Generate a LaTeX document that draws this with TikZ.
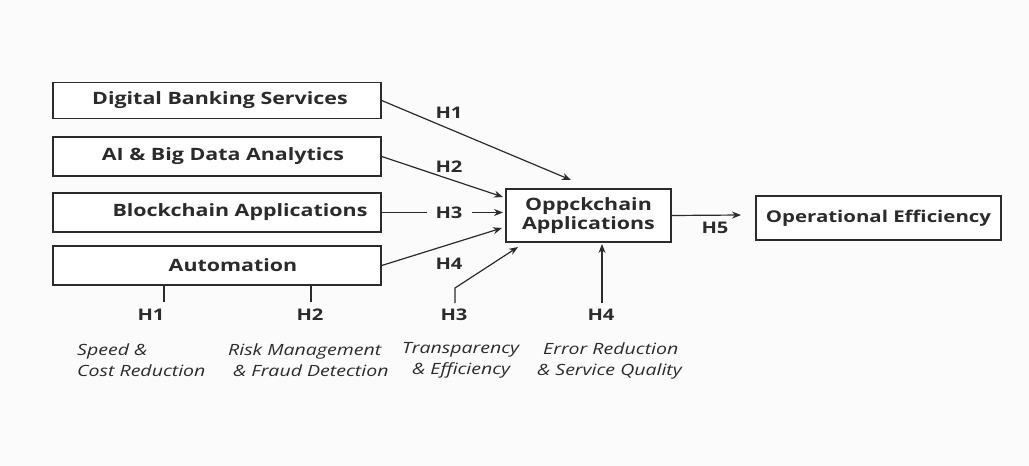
\documentclass[tikz,border=0pt]{standalone}
\usepackage{fontspec}
\setmainfont{Open Sans}[FakeStretch=1.26]
\usetikzlibrary{arrows.meta}
\definecolor{ink}{HTML}{2B2B2B}
\definecolor{paper}{HTML}{FBFBFB}
\tikzset{
  box/.style={draw=ink, line width=1.4pt, fill=white, inner sep=0pt},
  boxtxt/.style={font=\fontsize{17}{19.5}\selectfont\bfseries, text=ink, inner sep=0pt},
  hlbl/.style={font=\fontsize{16}{18}\selectfont\bfseries, text=ink, inner sep=1pt},
  note/.style={font=\fontsize{15.5}{21}\selectfont\itshape, text=ink, inner sep=0pt, align=left},
  link/.style={draw=ink, line width=1.2pt},
  arr/.style={link, -{Stealth[length=9pt,width=7pt]}},
}
\begin{document}
\begin{tikzpicture}[x=1pt,y=-1pt]
  \fill[paper] (0,0) rectangle (1029,466);
  \useasboundingbox (0,0) rectangle (1029,466);

  % input boxes
  \node[box, minimum width=328pt, minimum height=36pt] (dbs) at (217,100.5) {};
  \node[box, minimum width=328pt, minimum height=39pt] (ai)  at (217,156.5) {};
  \node[box, minimum width=328pt, minimum height=39pt] (bc)  at (217,212.5) {};
  \node[box, minimum width=328pt, minimum height=39pt] (aut) at (217,265.5) {};
  \node[boxtxt] at (220,100.5) {Digital Banking Services};
  \node[boxtxt] at (223,156.5) {AI \& Big Data Analytics};
  \node[boxtxt] at (240,212.5) {Blockchain Applications};
  \node[boxtxt] at (233,265.5) {Automation};

  % central and outcome boxes
  \node[box, minimum width=165pt, minimum height=53pt, align=center,
        font=\fontsize{17}{19.5}\selectfont\bfseries, text=ink] (ctr) at (588.5,215.5)
        {Oppckchain\\Applications};
  \node[box, minimum width=245pt, minimum height=44pt,
        font=\fontsize{16.2}{19}\selectfont\bfseries, text=ink] (oe) at (878.5,218)
        {Operational Efficiency};

  % free ends of the connectors
  \coordinate (t1) at (571,180);
  \coordinate (t2) at (503,197);
  \coordinate (t4) at (502,228);
  \coordinate (t5) at (741,215);
  \coordinate (b3) at (518,247);
  \coordinate (b4) at (602,244);

  % hypothesis labels beside the arrows
  \node[hlbl] (l1) at (449,113) {H1};
  \node[hlbl] (l2) at (449,167) {H2};
  \node[hlbl] (l3) at (449,213) {H3};
  \node[hlbl] (l4) at (449,264) {H4};
  \node[hlbl] (l5) at (715,228) {H5};

  \draw[arr] (dbs.east) -- (t1);
  \draw[arr] (ai.east) -- (t2);
  \draw[link] (bc.east) -- (427,212.5);
  \draw[arr] (472,212.5) -- (503,212.5);
  \draw[arr] (aut.east) -- (t4);
  \draw[arr] (ctr.east) -- (t5);

  % hypotheses below the row of boxes
  \node[hlbl] (m1) at (151,315) {H1};
  \node[hlbl] (m2) at (310,315) {H2};
  \node[hlbl] (m3) at (454,315) {H3};
  \node[hlbl] (m4) at (601,315) {H4};
  \draw[link] (164,285) -- (164,302);
  \draw[link] (311,285) -- (311,302);
  \draw[arr] (455,303) -- (455,288) -- (b3);
  \draw[arr] (602,303) -- (b4);

  % descriptions of each hypothesis
  \node[note, anchor=west] at (77,360.5) {Speed \&\\Cost Reduction};
  \node[note, anchor=west] at (228,360.5) {Risk Management\\\hspace*{5pt}\& Fraud Detection};
  \node[note, anchor=west] at (402,360.5) {Transparency\\\hspace*{10pt}\& Efficiency};
  \node[note, anchor=west] at (537,360.5) {\hspace*{6pt}Error Reduction\\\& Service Quality};
\end{tikzpicture}
\end{document}
